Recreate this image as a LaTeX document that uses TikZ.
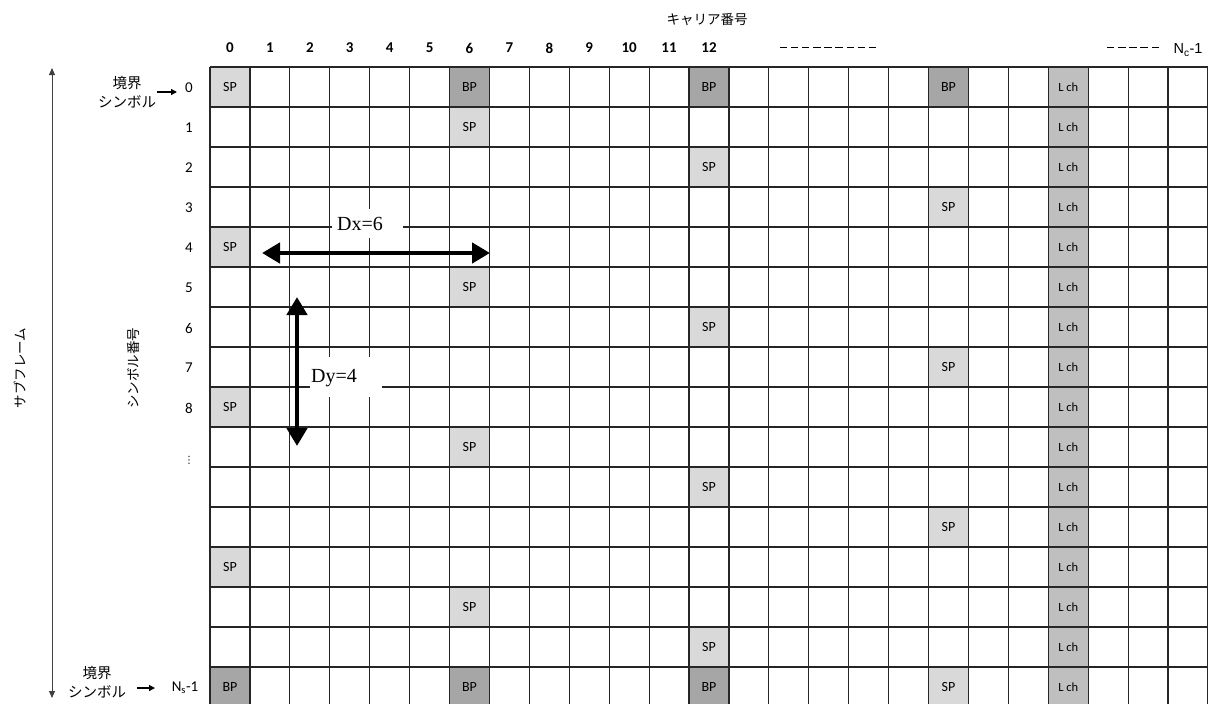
\documentclass[tikz,border=0pt]{standalone}
\usepackage{fontspec}
\setmainfont{Carlito}
\newfontfamily\jp{Noto Sans CJK JP}
\newfontfamily\arialf{Liberation Sans}
\newfontfamily\serf{Liberation Serif}
\newfontfamily\djv{DejaVu Sans}
\usetikzlibrary{arrows.meta}
\newcommand{\dashrow}[1]{\foreach \i in {1,...,#1}{\rule[0.28em]{0.55em}{0.08em}\hspace{0.3em}}}
\tikzset{
  gridline/.style={draw=black!85, line width=1.2pt},
  cell/.style={minimum width=39.92pt, minimum height=40pt, inner sep=0pt, draw=none},
  spcell/.style={cell, fill=black!15, font=\fontsize{14}{16}\selectfont},
  bpcell/.style={cell, fill=black!35, font=\fontsize{14}{16}\selectfont},
  lchcell/.style={cell, fill=black!25, font=\fontsize{12.5}{14}\selectfont},
  collabel/.style={font=\fontsize{15}{17}\selectfont\bfseries, inner sep=0pt},
  rowlabel/.style={font=\fontsize{15}{17}\selectfont, inner sep=0pt},
  jptext/.style={font=\jp\fontsize{13.5}{16}\selectfont, inner sep=0pt, align=center},
  bndtext/.style={font=\jp\fontsize{14.5}{19}\selectfont, inner sep=0pt, align=center},
  bigarrow/.style={line width=4.5pt, {Triangle[length=18pt,width=20pt]}-{Triangle[length=18pt,width=20pt]}},
  thinarrow/.style={draw=black!75, line width=0.9pt, {Triangle[length=7pt,width=6pt]}-{Triangle[length=7pt,width=6pt]}},
  smallarrow/.style={line width=1.3pt, -{Triangle[length=6pt,width=6pt]}},
  whitebox/.style={fill=white, draw=none, inner sep=0pt},
  dlabel/.style={font=\serf\fontsize{20}{23}\selectfont, inner sep=0pt}
}
\begin{document}
\begin{tikzpicture}[x=1pt,y=-1pt]
\useasboundingbox (0,0) rectangle (1208,704);
\begin{scope}
\clip (0,0) rectangle (1208,704);
% SP cells
\foreach \r in {0,...,15}{
  \pgfmathtruncatemacro{\c}{6*mod(\r,4)}
  \node[spcell] (sp-\r) at ({229.96+\c*39.92},{87+\r*40}) {SP};
}
% BP cells
\foreach \r/\c in {0/6,0/12,0/18,15/0,15/6,15/12}{
  \node[bpcell] (bp-\r-\c) at ({229.96+\c*39.92},{87+\r*40}) {BP};
}
% L ch column
\foreach \r in {0,...,15}{
  \node[lchcell] (lch-\r) at ({229.96+21*39.92},{87+\r*40}) {L ch};
}
% grid
\foreach \k in {0,...,25}{
  \draw[gridline] ({210+\k*39.92},67) -- ({210+\k*39.92},707);
}
\foreach \k in {0,...,16}{
  \draw[gridline] (210,{67+\k*40}) -- (1212,{67+\k*40});
}
\end{scope}
% column labels
\foreach \c in {0,...,12}{
  \node[collabel] (col-\c) at ({229.96+\c*39.92},48) {\c};
}
\node[font=\fontsize{13}{15}\selectfont, inner sep=0pt] (dash1) at (828,49) {\dashrow{9}};
\node[font=\fontsize{13}{15}\selectfont, inner sep=0pt] (dash2) at (1133,49) {\dashrow{5}};
\node[font=\arialf\fontsize{14.5}{16}\selectfont, inner sep=0pt] (nc) at (1188,50) {N\textsubscript{c}-1};
\node[jptext] (carrier) at (707,20) {キャリア番号};
% row labels
\foreach \r in {0,...,8}{
  \node[rowlabel] (row-\r) at (189,{88+\r*40}) {\r};
}
\node[font=\djv\fontsize{10}{11}\selectfont, inner sep=0pt] (row-9) at (189,460) {⋮};
\node[rowlabel] (row-ns) at (185,688) {N\textsubscript{s}-1};
% boundary symbol labels
\node[bndtext] (bnd-top) at (127,92) {境界\\シンボル};
\coordinate (bt-a) at (157,92);
\coordinate (bt-b) at (177,92);
\draw[smallarrow] (bt-a) -- (bt-b);
\node[bndtext] (bnd-bot) at (97,682) {境界\\シンボル};
\coordinate (bb-a) at (137,688);
\coordinate (bb-b) at (155,688);
\draw[smallarrow] (bb-a) -- (bb-b);
% side axis
\coordinate (ax-top) at (52,68);
\coordinate (ax-bot) at (52,698);
\draw[thinarrow] (ax-top) -- (ax-bot);
\node[jptext, rotate=90] (subframe) at (20,368) {サブフレーム};
\node[jptext, rotate=90] (symnum) at (133,368) {シンボル番号};
% Dx, Dy
\node[whitebox, minimum width=71pt, minimum height=29pt] (dxbox) at (367.5,223) {};
\node[dlabel] (dxlab) at (360,224) {Dx=6};
\node[whitebox, minimum width=72pt, minimum height=40pt] (dybox) at (346,377) {};
\node[dlabel] (dylab) at (334,378) {Dy=4};
\coordinate (dx-l) at (262,253);
\coordinate (dx-r) at (490,253);
\draw[bigarrow] (dx-l) -- (dx-r);
\coordinate (dy-t) at (297,297);
\coordinate (dy-b) at (297,446);
\draw[bigarrow] (dy-t) -- (dy-b);
\end{tikzpicture}
\end{document}
